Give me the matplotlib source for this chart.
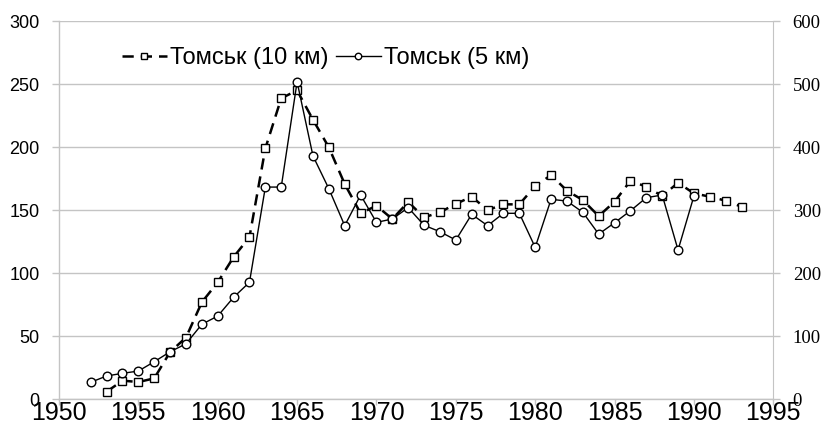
import matplotlib

matplotlib.use("Agg")

import matplotlib.pyplot as plt
import numpy as np

# Tomsk series
YEARS_5KM = np.arange(1952, 1991)
TOMSK_5KM = [
    13.5, 18.5, 20.6, 22.4, 29.8, 37.7, 44.0, 59.5, 66.0, 80.9,
    92.8, 168.3, 168.3, 251.8, 193.0, 167.0, 137.7, 162.0, 140.3, 143.0,
    152.0, 138.0, 132.9, 126.3, 146.7, 137.7, 147.5, 147.5, 120.5, 158.6,
    157.2, 148.3, 131.0, 140.0, 149.5, 159.9, 162.0, 118.4, 161.2,
]
YEARS_10KM = np.arange(1953, 1994)
TOMSK_10KM = [
    6.0, 14.8, 13.7, 16.6, 37.5, 49.0, 77.0, 92.8, 112.8, 128.7,
    199.0, 238.7, 245.0, 221.7, 199.8, 170.7, 147.5, 153.5, 143.0, 156.4,
    144.3, 148.3, 155.0, 160.7, 150.0, 154.6, 154.6, 169.1, 177.8, 165.4,
    158.0, 145.3, 156.7, 173.3, 168.6, 161.2, 171.7, 163.3, 160.7, 157.5,
    152.7,
]
LABEL_10KM = "Томськ (10 км)"
LABEL_5KM = "Томськ (5 км)"

X_TICKS = np.arange(1950, 1996, 5)
LEFT_TICKS = np.arange(0, 301, 50)
RIGHT_TICKS = np.arange(0, 601, 100)

GRID_GREY = "#c4c4c4"

fig = plt.figure(figsize=(8.22, 4.28), dpi=100)
ax = fig.add_axes([59 / 822, 1 - 399.3 / 428, (773.3 - 59) / 822, (399.3 - 21) / 428])

ax.plot(
    YEARS_10KM, TOMSK_10KM,
    color="black", linewidth=1.8, linestyle=(0, (4.5, 2.8)),
    marker="s", markersize=5.8, markerfacecolor="white",
    markeredgecolor="black", markeredgewidth=1.0, label=LABEL_10KM, zorder=3,
)
ax.plot(
    YEARS_5KM, TOMSK_5KM,
    color="black", linewidth=1.0,
    marker="o", markersize=6.2, markerfacecolor="white",
    markeredgecolor="black", markeredgewidth=1.0, label=LABEL_5KM, zorder=4,
)

ax.set_xlim(1950, 1995)
ax.set_ylim(0, 300)
ax.set_xticks(X_TICKS)
ax.set_yticks(LEFT_TICKS)
ax.grid(axis="y", color=GRID_GREY, linewidth=1.0)
ax.set_axisbelow(True)
for side in ("left", "bottom"):
    ax.spines[side].set_color(GRID_GREY)
    ax.spines[side].set_linewidth(1.0)
ax.spines["top"].set_visible(False)
ax.spines["right"].set_visible(False)
ax.tick_params(axis="x", length=4, width=1.0, color=GRID_GREY, pad=-2.5,
               labelsize=18)
ax.tick_params(axis="y", length=5, width=1.0, color=GRID_GREY, pad=9,
               labelsize=13)
for label in ax.get_xticklabels() + ax.get_yticklabels():
    label.set_family("Liberation Sans")

ax_right = ax.twinx()
ax_right.set_position(ax.get_position())
ax_right.set_ylim(0, 600)
ax_right.set_yticks(RIGHT_TICKS)
for side in ("left", "top", "bottom"):
    ax_right.spines[side].set_visible(False)
ax_right.spines["right"].set_color(GRID_GREY)
ax_right.tick_params(axis="y", length=5, width=1.0, color=GRID_GREY, pad=9,
                     labelsize=13.5)
for label in ax_right.get_yticklabels():
    label.set_family("Liberation Serif")

ax.legend(
    loc="center left", bbox_to_anchor=(0.088, 0.902), frameon=False,
    ncol=2, prop={"family": "Liberation Sans", "size": 17},
    handlelength=1.9, handletextpad=0.15, columnspacing=0.3,
    borderpad=0, borderaxespad=0, markerscale=0.75,
)

fig.savefig("out.png", dpi=100)
